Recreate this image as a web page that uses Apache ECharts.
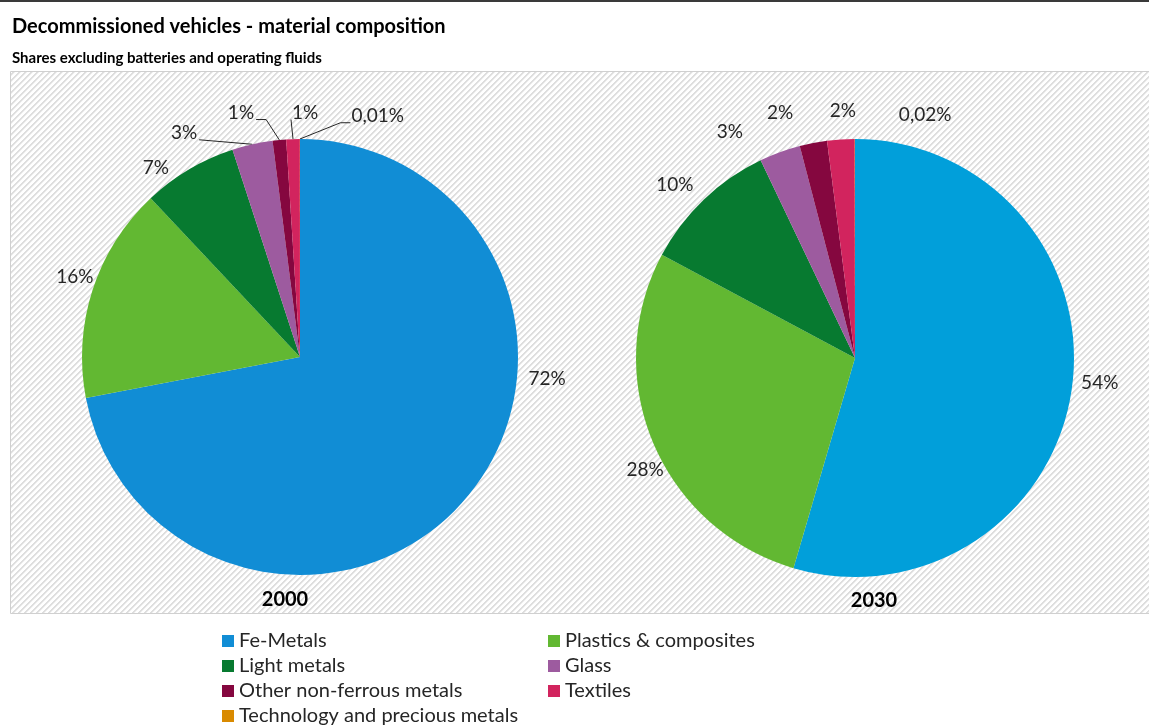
<!DOCTYPE html>
<html>
<head>
<meta charset="utf-8">
<title>Decommissioned vehicles - material composition</title>
<script src="https://cdn.jsdelivr.net/npm/echarts@6/dist/echarts.min.js"></script>
<style>
  html, body { margin: 0; padding: 0; background: #ffffff; }
  #chart { width: 1149px; height: 726px; }
</style>
</head>
<body>
<div id="chart"></div>
<script>
// Material categories, in slice order (clockwise from 12 o'clock)
const categories = [
  'Fe-Metals',
  'Plastics & composites',
  'Light metals',
  'Glass',
  'Other non-ferrous metals',
  'Textiles',
  'Technology and precious metals'
];

// Shares in percent, excluding batteries and operating fluids
const years = ['2000', '2030'];
const shares2000 = [72, 16, 7, 3, 1, 1, 0.01];
const shares2030 = [54, 28, 10, 3, 2, 2, 0.02];

// Legend columns
const legendLeft = ['Fe-Metals', 'Light metals', 'Other non-ferrous metals', 'Technology and precious metals'];
const legendRight = ['Plastics & composites', 'Glass', 'Textiles'];

// ---- styling ----
const FONT = 'Lato, "Open Sans", sans-serif';
const TEXT = '#262626';
const palette2000 = ['#118dd5', '#62b832', '#077a30', '#9d5b9f', '#85073f', '#d2245e', '#d98a00'];
const palette2030 = ['#019fda', '#62b832', '#077a30', '#9d5b9f', '#85073f', '#d2245e', '#d98a00'];

// pie geometry
const pies = [
  { center: [300, 357], radius: 218 },
  { center: [855, 358], radius: 219 }
];

// label placement around each pie: [angle clockwise from 12 o'clock (deg), distance from centre (px)]
const labelSpots = [
  [[95.1, 248], [289.6, 239], [322.7, 238], [332.6, 252], [346.4, 251], [1.2, 244], [17.9, 253]],
  [[95.8, 246], [241.9, 238], [313.9, 250], [331.0, 258], [343.0, 256], [357.2, 247], [16.1, 253]]
];

// leader lines (first pie only): which side of the label the line leaves from, and its elbow length
const leaders = [
  [null, null, null, { side: 'right', elbow: 0 }, { side: 'right', elbow: 10 }, { side: 'left', elbow: 0 }, { side: 'left', elbow: 10 }],
  [null, null, null, null, null, null, null]
];

function fmtShare(v) {
  return (v >= 1 ? String(v) : v.toFixed(2).replace('.', ',')) + '%';
}

// mid angle of each slice, clockwise from 12 o'clock, in degrees
function midAngles(values) {
  const total = values.reduce((a, b) => a + b, 0);
  let acc = 0;
  return values.map(v => {
    const mid = (acc + v / 2) / total * 360;
    acc += v;
    return mid;
  });
}

function polar(center, deg, dist) {
  const a = deg * Math.PI / 180;
  return [center[0] + dist * Math.sin(a), center[1] - dist * Math.cos(a)];
}

// diagonal hatch for the plot area background
function hatchPattern() {
  const c = document.createElement('canvas');
  c.width = 6; c.height = 6;
  const ctx = c.getContext('2d');
  ctx.fillStyle = '#ffffff';
  ctx.fillRect(0, 0, 6, 6);
  for (let y = 0; y < 6; y++) {
    for (let x = 0; x < 6; x++) {
      const k = (x + y) % 6;
      if (k === 0 || k === 1) { ctx.fillStyle = '#dedede'; ctx.fillRect(x, y, 1, 1); }
      else if (k === 2) { ctx.fillStyle = '#f0f0f0'; ctx.fillRect(x, y, 1, 1); }
    }
  }
  return c;
}

const allShares = [shares2000, shares2030];
const palettes = [palette2000, palette2030];

function buildSeries(si) {
  const values = allShares[si];
  const mids = midAngles(values);
  const pie = pies[si];
  return {
    type: 'pie',
    name: years[si],
    center: pie.center,
    radius: pie.radius,
    startAngle: 90,
    clockwise: true,
    avoidLabelOverlap: false,
    silent: true,
    z: 5,
    itemStyle: { borderWidth: 0 },
    label: {
      show: true,
      position: 'outside',
      color: TEXT,
      fontFamily: FONT,
      fontSize: 19,
      formatter: p => fmtShare(p.value)
    },
    labelLine: { show: false, lineStyle: { color: TEXT, width: 1 } },
    data: categories.map((name, i) => ({
      name: name,
      value: values[i],
      itemStyle: { color: palettes[si][i] },
      labelLine: { show: !!leaders[si][i], length: 5, length2: 5, lineStyle: { color: TEXT, width: 1 } }
    })),
    labelLayout: function (params) {
      const i = params.dataIndex;
      const spot = labelSpots[si][i];
      const pt = polar(pie.center, spot[0], spot[1]);
      const out = { x: pt[0], y: pt[1], align: 'center', verticalAlign: 'middle' };
      const ld = leaders[si][i];
      if (ld) {
        const w = params.labelRect.width, h = params.labelRect.height;
        const edge = polar(pie.center, mids[i], pie.radius);
        const ay = pt[1] + h / 2 - 3;
        const ax = ld.side === 'right' ? pt[0] + w / 2 + 2 : pt[0] - w / 2 - 1;
        const ex = ld.side === 'right' ? ax + ld.elbow : ax - ld.elbow;
        out.labelLinePoints = [edge, [ex, ay], [ax, ay]];
      }
      return out;
    }
  };
}

const chart = echarts.init(document.getElementById('chart'), null, { renderer: 'canvas' });

const legendCommon = {
  orient: 'vertical',
  icon: 'rect',
  itemWidth: 12,
  itemHeight: 12,
  itemGap: 5,
  padding: 0,
  height: 110,
  selectedMode: false,
  textStyle: { color: TEXT, fontFamily: FONT, fontSize: 20, lineHeight: 20 }
};

chart.setOption({
  animation: false,
  backgroundColor: '#ffffff',
  title: [
    {
      text: 'Decommissioned vehicles - material composition',
      left: 12, top: 17, padding: 0,
      textStyle: { fontFamily: FONT, fontSize: 20, fontWeight: 'bold', color: '#000000' }
    },
    {
      text: 'Shares excluding batteries and operating fluids',
      left: 12, top: 51, padding: 0,
      textStyle: { fontFamily: FONT, fontSize: 15, fontWeight: 'bold', color: '#000000' }
    }
  ],
  legend: [
    Object.assign({ data: legendLeft, left: 222, top: 631 }, legendCommon),
    Object.assign({ data: legendRight, left: 548, top: 631 }, legendCommon)
  ],
  graphic: [
    {
      type: 'line', silent: true, z: -5,
      shape: { x1: 0, y1: 1, x2: 1149, y2: 1 },
      style: { stroke: '#3a3a3a', lineWidth: 2 }
    },
    {
      type: 'rect', silent: true, z: -10,
      shape: { x: 10.5, y: 71.5, width: 1150, height: 542 },
      style: { fill: { image: hatchPattern(), repeat: 'repeat' }, stroke: '#d0d0d0', lineWidth: 1 }
    },
    {
      type: 'text', silent: true, z: 10, x: 285, y: 600,
      style: { text: years[0], fontFamily: FONT, fontSize: 20, fontWeight: 'bold', fill: '#000000', align: 'center', verticalAlign: 'middle' }
    },
    {
      type: 'text', silent: true, z: 10, x: 874, y: 601,
      style: { text: years[1], fontFamily: FONT, fontSize: 20, fontWeight: 'bold', fill: '#000000', align: 'center', verticalAlign: 'middle' }
    }
  ],
  series: [buildSeries(0), buildSeries(1)]
});
</script>
</body>
</html>
